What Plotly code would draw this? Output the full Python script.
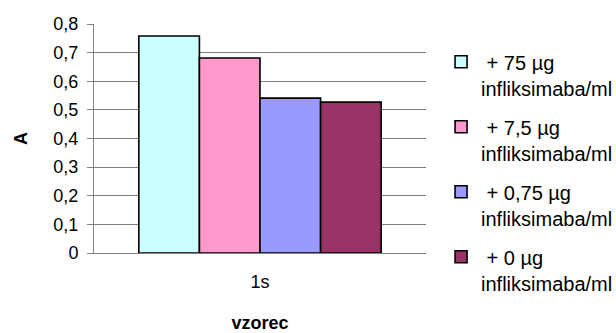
import plotly.graph_objects as go

# Absorbance readings for sample 1s at each infliximab concentration
categories = ["1s"]
series_names = [
    "\u00a0+ 75 µg<br>infliksimaba/ml",
    "\u00a0+ 7,5 µg<br>infliksimaba/ml",
    "\u00a0+ 0,75 µg<br>infliksimaba/ml",
    "\u00a0+ 0 µg<br>infliksimaba/ml",
]
series_values = [[0.758], [0.681], [0.541], [0.527]]
series_colors = ["#CCFFFF", "#FF99CC", "#9999FF", "#993366"]

y_ticks = [0, 0.1, 0.2, 0.3, 0.4, 0.5, 0.6, 0.7, 0.8]
y_tick_labels = ["0", "0,1", "0,2", "0,3", "0,4", "0,5", "0,6", "0,7", "0,8"]

FONT = "Liberation Sans, Arial, sans-serif"

fig = go.Figure()
for i, (name, vals, col) in enumerate(zip(series_names, series_values, series_colors)):
    fig.add_trace(go.Bar(
        x=categories, y=vals, name=name,
        marker=dict(color=col, line=dict(color="black", width=1.6)),
        legendgroup=f"g{i}",
    ))

fig.update_layout(
    width=616, height=333,
    margin=dict(l=94, r=190, t=24, b=80, autoexpand=False),
    paper_bgcolor="white", plot_bgcolor="white",
    font=dict(family=FONT, size=18, color="black"),
    barmode="group", bargap=0.27, bargroupgap=0,
    showlegend=True,
    legend=dict(
        xref="container", yref="container",
        x=0.716, xanchor="left", y=0.873, yanchor="top",
        font=dict(family=FONT, size=20), valign="top",
        tracegroupgap=10, bgcolor="rgba(0,0,0,0)",
        itemwidth=30, maxheight=333,
    ),
)

fig.update_yaxes(
    range=[0, 0.8], tickvals=y_ticks, ticktext=y_tick_labels,
    showgrid=True, gridcolor="#808080", gridwidth=1,
    showline=True, linecolor="#808080", linewidth=1,
    ticks="outside", ticklen=6, tickcolor="#808080",
    ticklabelstandoff=5, automargin=False,
    title=dict(text="<b>A</b>", standoff=21, font=dict(size=18)),
    zeroline=False,
)
fig.update_xaxes(
    showline=True, linecolor="#808080", linewidth=1,
    ticks="", showgrid=False, automargin=False,
    ticklabelstandoff=12,
    title=dict(text="<b>vzorec</b>", standoff=35, font=dict(size=18)),
)

fig.write_html("out.html")
